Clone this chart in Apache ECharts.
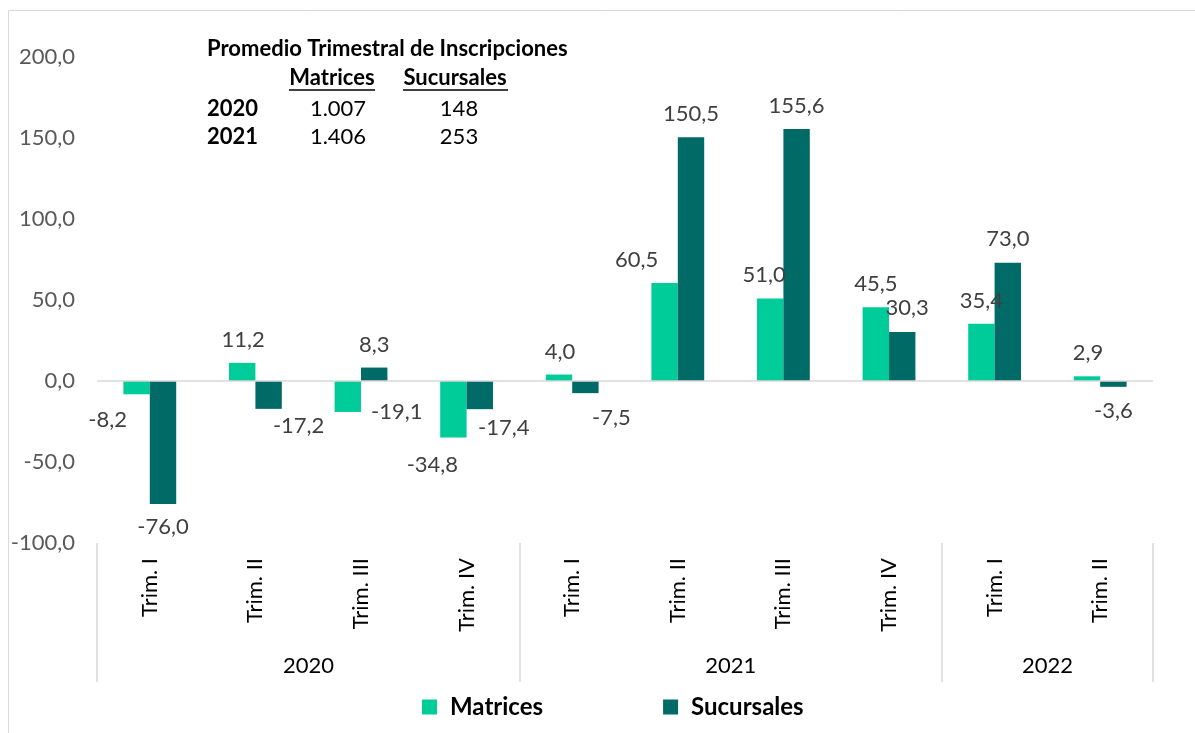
<!DOCTYPE html>
<html>
  <head>
    <meta charset="utf-8" />
  </head>
  <body style="margin: 0">
    <div id="container" style="width: 1195px; height: 733px"></div>

    <script
      type="text/javascript"
      src="https://cdn.jsdelivr.net/npm/echarts@6/dist/echarts.min.js"
    ></script>

    <script type="text/javascript">
      var trims = ["Trim. I", "Trim. II", "Trim. III", "Trim. IV", "Trim. I", "Trim. II", "Trim. III", "Trim. IV", "Trim. I", "Trim. II"];
      var years = ["2020", "2020", "2020", "2020", "2021", "2021", "2021", "2021", "2022", "2022"];
      var matrices = [-8.2, 11.2, -19.1, -34.8, 4.0, 60.5, 51.0, 45.5, 35.4, 2.9];
      var sucursales = [-76.0, -17.2, 8.3, -17.4, -7.5, 150.5, 155.6, 30.3, 73.0, -3.6];

      // small table in the top left corner
      var tableYears = ["2020", "2021"];
      var tableMatrices = ["1.007", "1.406"];
      var tableSucursales = ["148", "253"];

      // the labels were hand placed in the original, so nudge them a bit
      var matricesNudge = [[-29, 3], [1, 0], [49, -23], [-21, 5], [1, 0], [-28, 0], [-6, 0], [0, 0], [0, 0], [1, 0]];
      var sucursalesNudge = [[0, 0], [30, -6], [0, 0], [24, -4], [26, 2], [0, 0], [0, 0], [5, -1], [0, -1], [0, 1]];

      var FONT = "Lato";
      var matricesColor = "#00CC99";
      var sucursalesColor = "#006B66";

      function fmt(v) {
        return Number(v).toFixed(1).replace(".", ",");
      }

      function withLabels(values, nudge) {
        return values.map(function (v, i) {
          return {
            value: v,
            label: { position: v < 0 ? "bottom" : "top", offset: nudge[i] },
          };
        });
      }

      var graphics = [
        {
          type: "rect",
          silent: true,
          shape: { x: 8.5, y: 10.5, width: 1300, height: 900 },
          style: { fill: "none", stroke: "#d9d9d9", lineWidth: 1 },
        },
        {
          type: "text",
          x: 207,
          y: 49,
          style: { text: "Promedio Trimestral de Inscripciones", font: "bold 22px " + FONT, fill: "#000", verticalAlign: "middle" },
        },
        {
          type: "text",
          x: 332,
          y: 78,
          style: { text: "Matrices", font: "bold 22px " + FONT, fill: "#000", align: "center", verticalAlign: "middle" },
        },
        {
          type: "text",
          x: 455,
          y: 78,
          style: { text: "Sucursales", font: "bold 22px " + FONT, fill: "#000", align: "center", verticalAlign: "middle" },
        },
        { type: "line", shape: { x1: 289, y1: 90, x2: 375, y2: 90 }, style: { stroke: "#000", lineWidth: 1.5 } },
        { type: "line", shape: { x1: 403, y1: 90, x2: 508, y2: 90 }, style: { stroke: "#000", lineWidth: 1.5 } },
      ];

      tableYears.forEach(function (y, i) {
        var rowY = 109 + i * 28;
        graphics.push({
          type: "text",
          x: 207,
          y: rowY,
          style: { text: y, font: "bold 22px " + FONT, fill: "#000", verticalAlign: "middle" },
        });
        graphics.push({
          type: "text",
          x: 338,
          y: rowY,
          style: { text: tableMatrices[i], font: "22px " + FONT, fill: "#000", align: "center", verticalAlign: "middle" },
        });
        graphics.push({
          type: "text",
          x: 459,
          y: rowY,
          style: { text: tableSucursales[i], font: "22px " + FONT, fill: "#000", align: "center", verticalAlign: "middle" },
        });
      });

      var dom = document.getElementById("container");
      var myChart = echarts.init(dom);

      var labelStyle = {
        show: true,
        distance: 12,
        fontFamily: FONT,
        fontSize: 22,
        color: "#404040",
        formatter: function (p) {
          return fmt(p.value);
        },
      };

      var option = {
        animation: false,
        backgroundColor: "#fff",
        textStyle: { fontFamily: FONT },
        graphic: graphics,
        legend: {
          data: ["Matrices", "Sucursales"],
          left: 422,
          top: 695,
          padding: 0,
          icon: "rect",
          itemWidth: 15,
          itemHeight: 15,
          itemGap: 120,
          textStyle: {
            fontFamily: FONT,
            fontSize: 24,
            fontWeight: "bold",
            color: "#000",
            padding: [0, 0, 0, 8],
          },
        },
        grid: {
          left: 97,
          right: 42,
          top: 57,
          bottom: 190,
        },
        xAxis: [
          {
            type: "category",
            data: trims,
            position: "bottom",
            axisLine: { show: false, onZero: false },
            axisTick: { show: false },
            axisLabel: {
              rotate: 90,
              margin: 15,
              interval: 0,
              fontFamily: FONT,
              fontSize: 22,
              color: "#000",
            },
          },
          {
            type: "category",
            data: years,
            position: "bottom",
            axisLine: { show: false, onZero: false },
            axisTick: {
              show: true,
              length: 139,
              lineStyle: { color: "#d9d9d9", width: 1.5 },
              interval: function (i) {
                return i === 0 || i === 4 || i === 8;
              },
            },
            axisLabel: {
              margin: 112,
              fontFamily: FONT,
              fontSize: 22,
              color: "#000",
              padding: [0, 0, 0, 106],
              interval: function (i) {
                return i === 1 || i === 5 || i === 8;
              },
            },
          },
        ],
        yAxis: {
          type: "value",
          min: -100,
          max: 200,
          interval: 50,
          axisLine: { show: false },
          axisTick: { show: false },
          splitLine: { show: false },
          axisLabel: {
            margin: 22,
            fontFamily: FONT,
            fontSize: 22,
            color: "#595959",
            formatter: fmt,
          },
        },
        series: [
          {
            name: "Matrices",
            type: "bar",
            barGap: 0,
            barCategoryGap: "50%",
            itemStyle: { color: matricesColor },
            label: labelStyle,
            data: withLabels(matrices, matricesNudge),
            markLine: {
              silent: true,
              symbol: "none",
              label: { show: false },
              lineStyle: { color: "#d9d9d9", width: 1.5, type: "solid" },
              data: [{ yAxis: 0 }],
            },
          },
          {
            name: "Sucursales",
            type: "bar",
            barGap: 0,
            barCategoryGap: "50%",
            itemStyle: { color: sucursalesColor },
            label: labelStyle,
            data: withLabels(sucursales, sucursalesNudge),
          },
        ],
      };

      myChart.setOption(option);
    </script>
  </body>
</html>
